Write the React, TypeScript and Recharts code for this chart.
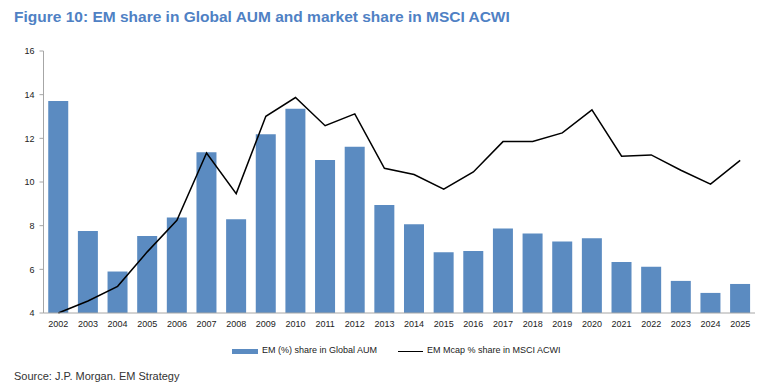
import React from 'react';
import { ComposedChart, Bar, Line, XAxis, YAxis } from 'recharts';

const years = [
  '2002', '2003', '2004', '2005', '2006', '2007', '2008', '2009', '2010', '2011', '2012', '2013',
  '2014', '2015', '2016', '2017', '2018', '2019', '2020', '2021', '2022', '2023', '2024', '2025',
];
const aumShare = [
  13.71, 7.76, 5.9, 7.53, 8.37, 11.36, 8.29, 12.19, 13.36, 11.01, 11.62, 8.95,
  8.06, 6.78, 6.84, 7.87, 7.64, 7.28, 7.42, 6.34, 6.12, 5.47, 4.92, 5.33,
];
const mcapShare = [
  4.0, 4.55, 5.22, 6.8, 8.25, 11.33, 9.47, 13.01, 13.87, 12.58, 13.12, 10.63,
  10.34, 9.67, 10.46, 11.85, 11.86, 12.25, 13.3, 11.18, 11.24, 10.54, 9.9, 10.99,
];
const yTicks = [4, 6, 8, 10, 12, 14, 16];
const boundaryTicks = [0, 2, 4, 6, 8, 10, 12, 14, 16, 18, 20, 22, 24];

const data = years.map((year, i) => ({ year, aum: aumShare[i], mcap: mcapShare[i] }));

const font = 'Arial, "Liberation Sans", sans-serif';
const barColor = '#5b8bc1';
const axisColor = '#a6a6a6';

const App: React.FC = () => {
  return (
    <div style={{ position: 'absolute', left: 0, top: 0, width: 768, height: 391, background: '#fff', fontFamily: font }}>
      <div style={{ position: 'absolute', left: 14, top: 8, fontSize: 15.5, fontWeight: 'bold', color: '#4f81c4', whiteSpace: 'nowrap' }}>
        Figure 10: EM share in Global AUM and market share in MSCI ACWI
      </div>
      <div style={{ position: 'absolute', left: 0, top: 0 }}>
        <ComposedChart
          width={768}
          height={340}
          data={data}
          barCategoryGap="16%"
          margin={{ top: 51, right: 13, left: 0, bottom: 7 }}
        >
          <XAxis
            xAxisId="b"
            type="number"
            domain={[0, 24]}
            ticks={boundaryTicks}
            allowDataOverflow
            height={0}
            tick={false}
            axisLine={false}
            tickLine={{ stroke: axisColor }}
            tickSize={4}
          />
          <XAxis
            dataKey="year"
            height={20}
            axisLine={{ stroke: axisColor }}
            tickLine={false}
            tickSize={4}
            tickMargin={4}
            interval={0}
            tick={{ fontSize: 9, fill: '#222', fontFamily: font }}
          />
          <YAxis
            width={43.5}
            domain={[4, 16]}
            ticks={yTicks}
            axisLine={{ stroke: axisColor }}
            tickLine={{ stroke: axisColor }}
            tickSize={4}
            tickMargin={5}
            tick={{ fontSize: 9, fill: '#222', fontFamily: font }}
          />
          <Bar dataKey="aum" fill={barColor} isAnimationActive={false} />
          <Line type="linear" dataKey="mcap" stroke="#000" strokeWidth={1.5} dot={false} isAnimationActive={false} />
        </ComposedChart>
      </div>
      <div style={{ position: 'absolute', left: 0, top: 344, width: 768, height: 14, fontSize: 9, color: '#222' }}>
        <div style={{ position: 'absolute', left: 232, top: 4.5, width: 26, height: 5, background: barColor }} />
        <div style={{ position: 'absolute', left: 262, top: 1, whiteSpace: 'nowrap' }}>EM (%) share in Global AUM</div>
        <div style={{ position: 'absolute', left: 398, top: 6.5, width: 25, height: 1.5, background: '#000' }} />
        <div style={{ position: 'absolute', left: 427, top: 1, whiteSpace: 'nowrap' }}>EM Mcap % share in MSCI ACWI</div>
      </div>
      <div style={{ position: 'absolute', left: 14, top: 370, fontSize: 11, color: '#333', whiteSpace: 'nowrap' }}>
        Source: J.P. Morgan. EM Strategy
      </div>
    </div>
  );
};

export default App;
